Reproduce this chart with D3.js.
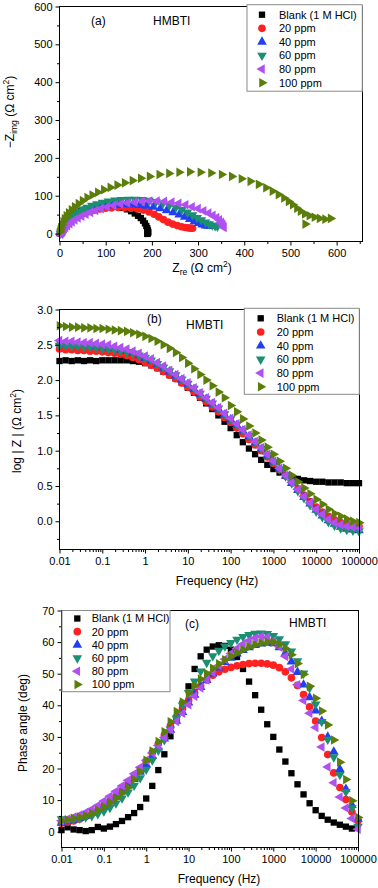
<!DOCTYPE html>
<html><head><meta charset="utf-8">
<script src="https://cdn.jsdelivr.net/npm/d3@7"></script>
<style>body{margin:0;background:#fff}svg{display:block}</style>
</head><body><svg id="c" width="378" height="888"></svg>
<script>
// ---------- DATA ----------
const seriesNames = ["Blank (1 M HCl)", "20 ppm", "40 ppm", "60 ppm", "80 ppm", "100 ppm"];

// Nyquist (a): Zre and -Zimg (ohm cm2)
const nyqBlankRe = [3,4,5,7,9,12,16,20,25,31,38,46,55,65,76,88,100,112,124,135,146,155,163,170,176,181,185,188,190,191,192,192,191,190];
const nyqBlankIm = [0,4,9,14,19,25,31,37,43,49,54,59,63,67,70,72,73,73,71,68,64,59,53,47,41,34,27,20,14,9,5,2,0,-1];
const nyq20Re = [2,3,4,6,8,11,15,19,24,30,37,45,54,64,75,87,100,113,127,141,155,169,182,194,205,215,225,235,245,255,264,272,279,285,288];
const nyq20Im = [0,3,6,10,14,19,24,29,34,39,44,49,54,58,62,65,67,68,69,68,67,65,62,57,51,44,37,30,25,21,18,16,15,14,14];
const nyq40Re = [2,3,4,6,8,11,15,19,24,30,37,45,54,64,75,87,100,114,128,143,158,173,188,203,218,232,246,259,271,282,292,301,309,316,322,327];
const nyq40Im = [0,3,7,11,16,21,27,32,38,43,48,53,58,62,66,70,72,74,75,76,76,75,73,70,66,61,56,50,44,38,32,27,23,21,20,20];
const nyq60Re = [2,3,4,6,8,11,14,18,23,29,35,43,51,60,70,81,93,106,120,134,149,164,179,194,209,224,238,252,265,277,288,298,307,316,324,331,337,342];
const nyq60Im = [0,4,8,13,18,24,30,36,42,48,54,59,64,69,74,78,82,85,88,89,90,90,89,87,84,80,75,69,63,56,49,42,36,30,25,22,20,19];
const nyq80Re = [2,3,5,7,10,13,17,22,27,33,40,48,57,67,78,90,103,117,132,147,163,179,195,211,227,243,258,273,287,300,312,323,332,340,346,350,353,355,356];
const nyq80Im = [-2,1,4,8,12,16,21,26,31,36,41,46,51,56,61,66,70,74,78,81,83,85,86,86,85,83,80,76,71,66,60,54,48,42,36,30,25,20,16];
const nyq100Re = [1,2,3,5,8,11,15,20,26,33,41,50,60,71,83,96,110,125,141,158,176,195,216,237,259,282,305,328,351,373,394,413,431,447,461,474,486,496,505,514,522,531,541,552,563,575,587,532];
const nyq100Im = [4,10,16,23,31,39,47,55,63,71,79,87,95,102,109,116,122,128,134,140,146,151,156,159,162,163,162,160,156,151,145,138,130,121,112,103,94,85,76,67,59,52,47,43,40,38,40,25];

// Bode frequencies (Hz)
const freq = [0.01,0.0139,0.0193,0.0268,0.0373,0.0518,0.0720,
  0.1,0.139,0.193,0.268,0.373,0.518,0.720,
  1,1.39,1.93,2.68,3.73,5.18,7.20,
  10,13.9,19.3,26.8,37.3,51.8,72.0,
  100,139,193,268,373,518,720,
  1000,1390,1930,2680,3730,5180,7200,
  10000,13900,19300,26800,37300,51800,72000,
  100000];

// log|Z| (b)
const logZBlank = [2.27,2.28,2.27,2.28,2.27,2.28,2.27, 2.28,2.28,2.28,2.28,2.28,2.27,2.26, 2.24,2.21,2.17,2.12,2.07,2.02,1.96, 1.89,1.82,1.75,1.67,1.59,1.50,1.41, 1.32,1.22,1.12,1.03,0.95,0.87,0.80, 0.74,0.69,0.65,0.62,0.60,0.58,0.57, 0.56,0.56,0.55,0.55,0.55,0.54,0.54, 0.54];
const logZ20 = [2.44,2.43,2.43,2.42,2.42,2.41,2.41, 2.40,2.39,2.38,2.37,2.35,2.32,2.29, 2.25,2.21,2.17,2.12,2.07,2.02,1.96, 1.90,1.83,1.76,1.69,1.62,1.55,1.47, 1.40,1.32,1.24,1.16,1.08,1.00,0.91, 0.82,0.73,0.64,0.55,0.46,0.37,0.28, 0.20,0.13,0.07,0.02,-0.02,-0.04,-0.06, -0.07];
const logZ40 = [2.52,2.51,2.51,2.50,2.50,2.49,2.48, 2.47,2.46,2.45,2.43,2.41,2.38,2.35, 2.31,2.27,2.22,2.17,2.12,2.06,2.00, 1.94,1.87,1.80,1.73,1.66,1.59,1.51, 1.44,1.36,1.28,1.20,1.11,1.02,0.93, 0.84,0.74,0.64,0.54,0.44,0.34,0.25, 0.16,0.08,0.01,-0.04,-0.08,-0.11,-0.12, -0.13];
const logZ60 = [2.49,2.49,2.48,2.48,2.47,2.47,2.46, 2.45,2.44,2.43,2.42,2.40,2.38,2.35, 2.32,2.28,2.23,2.18,2.13,2.07,2.01, 1.95,1.88,1.81,1.74,1.67,1.60,1.52, 1.45,1.37,1.29,1.21,1.12,1.03,0.94, 0.84,0.74,0.64,0.54,0.43,0.33,0.23, 0.14,0.06,-0.01,-0.06,-0.10,-0.12,-0.13, -0.14];
const logZ80 = [2.56,2.55,2.55,2.54,2.53,2.53,2.52, 2.51,2.50,2.48,2.46,2.44,2.41,2.38, 2.34,2.30,2.25,2.20,2.14,2.08,2.02, 1.96,1.89,1.82,1.75,1.68,1.61,1.53, 1.46,1.38,1.30,1.22,1.13,1.04,0.95, 0.85,0.75,0.65,0.55,0.45,0.35,0.26, 0.17,0.10,0.03,-0.02,-0.05,-0.07,-0.08, -0.09];
const logZ100 = [2.77,2.76,2.75,2.75,2.74,2.74,2.73, 2.73,2.72,2.71,2.70,2.69,2.67,2.65, 2.62,2.59,2.55,2.50,2.45,2.39,2.32, 2.24,2.16,2.08,2.00,1.92,1.83,1.75, 1.64,1.55,1.45,1.35,1.25,1.15,1.05, 0.95,0.85,0.75,0.65,0.56,0.47,0.39, 0.31,0.24,0.17,0.11,0.07,0.03,0.00, -0.02];

// Phase angle (c), deg
const phaseBlank = [0.5,1.4,0.7,0.5,0.2,0.5,1.5, 1.0,1.6,2.4,3.4,4.6,5.9,7.8, 10.5,14.5,19.5,24.5,30.2,35.5,40.5, 46.0,51.5,55.5,57.6,58.6,59.0,58.8, 57.6,55.3,51.5,47.5,43.2,38.6,34.0, 30.0,26.0,22.2,18.5,15.0,11.8,9.0, 6.8,5.0,3.8,2.9,2.2,1.6,1.0, null];
const phase20 = [2.7,3.0,3.4,4.0,4.8,5.7,6.8, 8.3,9.6,11.2,13.0,15.0,17.2,19.6, 22.3,25.0,27.8,30.6,33.5,36.3,39.0, 41.6,44.0,46.2,48.0,49.5,50.6,51.4, 52.0,52.5,52.9,53.2,53.3,53.3,53.1, 52.7,51.9,50.6,48.7,46.3,43.4,39.5, 35.0,29.8,24.4,18.6,14.0,10.2,6.2, 3.5];
const phase40 = [2.8,3.2,3.7,4.3,5.0,5.9,6.9, 8.1,9.5,11.0,12.7,14.6,16.6,18.9, 21.3,23.9,26.6,29.4,32.2,35.0,37.8, 40.8,43.3,45.7,47.9,50.0,51.9,53.6, 55.0,56.3,57.4,58.3,59.0,59.5,59.7, 59.6,58.3,56.5,53.8,50.5,46.5,42.5, 38.3,35.0,30.0,25.3,19.8,13.5,8.4, 4.0];
const phase60 = [4.0,4.0,4.1,4.3,4.6,5.0,5.6, 6.5,7.6,9.0,10.6,12.5,14.6,17.0, 19.7,22.6,25.7,29.0,32.4,35.9,40.0, 44.0,47.6,50.8,53.5,55.6,57.3,58.7, 59.8,60.8,61.7,62.3,62.7,62.8,62.6, 62.0,61.0,59.4,57.1,54.0,50.1,45.5, 40.3,34.8,29.2,23.6,18.0,12.6,7.5, 1.6];
const phase80 = [3.5,4.0,4.6,5.3,6.1,7.1,8.3, 9.7,11.2,12.8,14.5,16.3,18.3,20.4, 22.6,24.9,27.3,29.8,32.3,34.9,37.5, 40.2,42.9,45.5,48.0,50.4,52.6,54.6, 56.4,58.0,59.4,60.5,61.3,61.8,61.6, 60.4,58.5,55.5,51.5,46.5,41.5,37.5, 33.0,26.8,20.5,15.5,11.0,7.5,4.2, 0.8];
const phase100 = [3.5,3.8,4.2,4.6,5.1,5.8,6.8, 7.9,9.2,10.6,12.2,14.0,16.5,19.0, 22.6,25.5,28.5,31.6,34.8,38.0,41.0, 43.8,46.2,48.3,50.1,51.7,53.1,54.4, 55.5,56.6,57.6,58.5,59.2,59.7,60.0, 60.0,59.3,58.0,56.0,53.2,49.8,46.0, 42.2,38.2,33.8,29.0,22.0,16.5,9.8, 4.5];

// Tick labels
const nyqXTicks = [0,100,200,300,400,500,600];
const nyqYTicks = [0,100,200,300,400,500,600];
const freqTicks = [0.01,0.1,1,10,100,1000,10000,100000];
const freqTickLabels = ["0.01","0.1","1","10","100","1000","10000","100000"];
const logZTicks = [0.0,0.5,1.0,1.5,2.0,2.5,3.0];
const phaseTicks = [0,10,20,30,40,50,60,70];

// ---------- STYLE ----------
const FONT = "Arial, 'Liberation Sans', Helvetica, sans-serif";
const colors = ["#000000","#ff2020","#2040f0","#1b8f72","#b050f0","#5b7d0a"];
const symTypes = [d3.symbolSquare, d3.symbolCircle, d3.symbolTriangle, d3.symbolTriangle, d3.symbolTriangle, d3.symbolTriangle];
const symRot = [0,0,0,180,-90,90];
const symSize = [40,46,40,40,40,40];

const svg = d3.select("#c");

function drawMarker(g, x, y, i) {
  g.append("path")
    .attr("d", d3.symbol(symTypes[i], symSize[i])())
    .attr("transform", `translate(${x},${y}) rotate(${symRot[i]})`)
    .attr("fill", colors[i]);
}

function zip(a, b) { return a.map((v, k) => [v, b[k]]); }

function minorLog(lo, hi) {
  const out = [];
  for (let e = Math.log10(lo); e < Math.log10(hi); e++) {
    for (let m = 2; m <= 9; m++) out.push(m * Math.pow(10, e));
  }
  return out;
}

function panel(cfg) {
  const g = svg.append("g");
  const { L, R, T, B, x, y } = cfg;
  const dg = g.append("g");
  cfg.series.forEach((s, i) => {
    s.forEach(p => { if (p[1] == null) return; drawMarker(dg, x(p[0]), y(p[1]), i); });
  });
  g.append("rect").attr("x", L).attr("y", T).attr("width", R - L).attr("height", B - T)
    .attr("fill", "none").attr("stroke", "#000").attr("stroke-width", 1);
  const xa = g.append("g").attr("transform", `translate(0,${B})`)
    .call(d3.axisBottom(x).tickValues(cfg.xTicks).tickFormat(cfg.xFmt).tickSize(4).tickPadding(4));
  const xm = g.append("g").attr("transform", `translate(0,${B})`)
    .call(d3.axisBottom(x).tickValues(cfg.xMinor).tickFormat("").tickSize(2.5));
  const ya = g.append("g").attr("transform", `translate(${L},0)`)
    .call(d3.axisLeft(y).tickValues(cfg.yTicks).tickFormat(cfg.yFmt).tickSize(4).tickPadding(3));
  const ym = g.append("g").attr("transform", `translate(${L},0)`)
    .call(d3.axisLeft(y).tickValues(cfg.yMinor).tickFormat("").tickSize(2.5));
  [xa, xm, ya, ym].forEach(a => {
    a.select(".domain").remove();
    a.attr("font-family", FONT).attr("font-size", 11);
    a.selectAll("line").attr("stroke", "#000");
    a.selectAll("text").attr("fill", "#000");
  });
  const lg = cfg.legend;
  g.append("rect").attr("x", lg.x).attr("y", lg.y).attr("width", lg.w).attr("height", lg.h)
    .attr("fill", "#fff").attr("stroke", "#8a8a8a").attr("stroke-width", 1);
  seriesNames.forEach((nm, i) => {
    const yy = lg.r0 + i * lg.step;
    drawMarker(g, lg.sx, yy, i);
    g.append("text").attr("x", lg.tx).attr("y", yy).attr("dy", "0.36em")
      .attr("font-family", FONT).attr("font-size", 11).attr("fill", "#000").text(nm);
  });
  cfg.notes.forEach(n => {
    g.append("text").attr("x", n.x).attr("y", n.y).attr("dy", "0.36em")
      .attr("font-family", FONT).attr("font-size", 12).attr("fill", "#000").text(n.t);
  });
  return g;
}

// ---------- PANEL (a) ----------
{
  const L = 59.5, R = 362.5, T = 6.5, B = 241.5;
  const x = d3.scaleLinear().domain([0, 656]).range([L, R]);
  const y = d3.scaleLinear().domain([-21, 600]).range([B, T]);
  const series = [zip(nyqBlankRe, nyqBlankIm), zip(nyq20Re, nyq20Im), zip(nyq40Re, nyq40Im),
                  zip(nyq60Re, nyq60Im), zip(nyq80Re, nyq80Im), zip(nyq100Re, nyq100Im)];
  panel({ L, R, T, B, x, y, series,
    xTicks: nyqXTicks, xFmt: d3.format("d"), xMinor: nyqXTicks.map(v => v + 50),
    yTicks: nyqYTicks, yFmt: d3.format("d"), yMinor: nyqYTicks.slice(0, -1).map(v => v + 50),
    legend: { x: 247, y: 4.7, w: 115.3, h: 86.5, sx: 262, tx: 279, r0: 14.7, step: 13.6 },
    notes: [{ x: 91, y: 20.7, t: "(a)" }, { x: 153, y: 20.7, t: "HMBTI" }] });
  const t = svg.append("text").attr("x", 202).attr("y", 272).attr("text-anchor", "middle")
    .attr("font-family", FONT).attr("font-size", 12).attr("fill", "#000");
  t.append("tspan").text("Z");
  t.append("tspan").attr("font-size", 8.5).attr("dy", 3).text("re");
  t.append("tspan").attr("dy", -3).text(" (Ω cm");
  t.append("tspan").attr("font-size", 8.5).attr("dy", -5).text("2");
  t.append("tspan").attr("dy", 5).text(")");
  const ty = svg.append("text").attr("transform", "translate(14,112) rotate(-90)").attr("text-anchor", "middle")
    .attr("font-family", FONT).attr("font-size", 12).attr("fill", "#000");
  ty.append("tspan").text("−Z");
  ty.append("tspan").attr("font-size", 8.5).attr("dy", 3).text("img");
  ty.append("tspan").attr("dy", -3).text(" (Ω cm");
  ty.append("tspan").attr("font-size", 8.5).attr("dy", -5).text("2");
  ty.append("tspan").attr("dy", 5).text(")");
}

// ---------- PANEL (b) ----------
{
  const L = 59.5, R = 359.5, T = 309.5, B = 549.5;
  const x = d3.scaleLog().domain([0.01, 100000]).range([L, 359]);
  const y = d3.scaleLinear().domain([-0.4, 3.0]).range([B, T]);
  const series = [zip(freq, logZBlank), zip(freq, logZ20), zip(freq, logZ40),
                  zip(freq, logZ60), zip(freq, logZ80), zip(freq, logZ100)];
  panel({ L, R, T, B, x, y, series,
    xTicks: freqTicks, xFmt: (d, i) => freqTickLabels[i], xMinor: minorLog(0.01, 100000),
    yTicks: logZTicks, yFmt: d3.format(".1f"), yMinor: [-0.25,0.25,0.75,1.25,1.75,2.25,2.75],
    legend: { x: 244.3, y: 308.3, w: 115, h: 86, sx: 260.7, tx: 276.7, r0: 318.3, step: 13.7 },
    notes: [{ x: 147, y: 319, t: "(b)" }, { x: 186, y: 325, t: "HMBTI" }] });
  svg.append("text").attr("x", 217).attr("y", 585).attr("text-anchor", "middle")
    .attr("font-family", FONT).attr("font-size", 12).attr("fill", "#000").text("Frequency (Hz)");
  const ty = svg.append("text").attr("transform", "translate(21,431) rotate(-90)").attr("text-anchor", "middle")
    .attr("font-family", FONT).attr("font-size", 12).attr("fill", "#000");
  ty.append("tspan").text("log | Z |  (Ω cm");
  ty.append("tspan").attr("font-size", 8.5).attr("dy", -5).text("2");
  ty.append("tspan").attr("dy", 5).text(")");
}

// ---------- PANEL (c) ----------
{
  const L = 61.5, R = 358.5, T = 610.5, B = 847.5;
  const x = d3.scaleLog().domain([0.01, 100000]).range([L, 358]);
  const y = d3.scaleLinear().domain([-5, 70]).range([B, T]);
  const series = [zip(freq, phaseBlank), zip(freq, phase20), zip(freq, phase40),
                  zip(freq, phase60), zip(freq, phase80), zip(freq, phase100)];
  panel({ L, R, T, B, x, y, series,
    xTicks: freqTicks, xFmt: (d, i) => freqTickLabels[i], xMinor: minorLog(0.01, 100000),
    yTicks: phaseTicks, yFmt: d3.format("d"), yMinor: [5,15,25,35,45,55,65],
    legend: { x: 62, y: 610.5, w: 108, h: 81.2, sx: 77.3, tx: 91.7, r0: 618.5, step: 13.2 },
    notes: [{ x: 185, y: 624, t: "(c)" }, { x: 289, y: 623, t: "HMBTI" }] });
  svg.append("text").attr("x", 219).attr("y", 883).attr("text-anchor", "middle")
    .attr("font-family", FONT).attr("font-size", 12).attr("fill", "#000").text("Frequency (Hz)");
  svg.append("text").attr("transform", "translate(27,723) rotate(-90)").attr("text-anchor", "middle")
    .attr("font-family", FONT).attr("font-size", 12).attr("fill", "#000").text("Phase angle (deg)");
}
</script>
</body></html>
